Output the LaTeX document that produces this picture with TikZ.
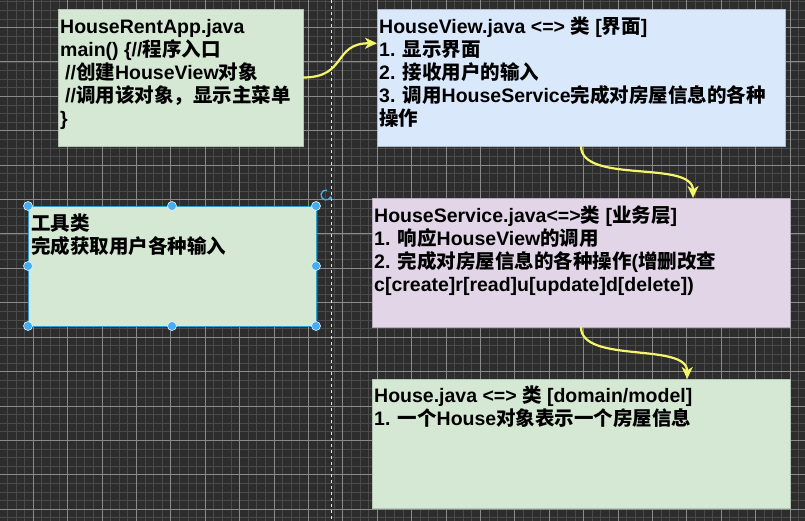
\documentclass[tikz,border=0pt]{standalone}
\usepackage{fontspec}
\setmainfont{Liberation Sans}
\newfontfamily\cjk{Noto Sans CJK SC}
\newcommand{\zh}[1]{{\cjk #1}}
\usetikzlibrary{arrows.meta,calc}
\definecolor{bgdark}{HTML}{2D2D2D}
\definecolor{gridminor}{HTML}{4A4A4A}
\definecolor{gridmajor}{HTML}{8A8A8A}
\definecolor{greenfill}{HTML}{D5E8D4}
\definecolor{bluefill}{HTML}{DAE8FC}
\definecolor{purplefill}{HTML}{E1D5E7}
\definecolor{flowyellow}{HTML}{F5F56A}
\definecolor{handleblue}{HTML}{45ADF0}
\begin{document}
\begin{tikzpicture}[x=1pt,y=1pt,>={Stealth[length=12pt,width=11pt,inset=3.5pt]},
  box/.style={rectangle, inner sep=0pt, outer sep=0pt, anchor=north west, line width=0.6pt},
  txt/.style={anchor=north west, inner sep=0pt, align=left, font=\fontsize{19.5}{23}\selectfont\bfseries},
  flow/.style={->, draw=flowyellow, line width=2.2pt},
  handle/.style={fill=handleblue, draw=white!85!handleblue, line width=0.6pt}]
\useasboundingbox (0,0) rectangle (805,-521);
\fill[bgdark] (0,0) rectangle (805,-521);
\foreach \i in {0,...,94} \draw[gridminor, line width=0.5pt] ({-1.4+8.6*\i},0) -- ({-1.4+8.6*\i},-521);
\foreach \j in {0,...,60} \draw[gridminor, line width=0.5pt] (0,{-1.6-8.6*\j}) -- (805,{-1.6-8.6*\j});
\foreach \i in {0,...,23} \draw[gridmajor, line width=0.6pt] ({-1.4+34.4*\i},0) -- ({-1.4+34.4*\i},-521);
\foreach \j in {0,...,14} \draw[gridmajor, line width=0.6pt] (0,{-27.4-34.4*\j}) -- (805,{-27.4-34.4*\j});
\draw[white!80!gray, line width=0.8pt, dash pattern=on 3pt off 3pt] (331.5,0) -- (331.5,-521);
\node[box, fill=greenfill, draw=greenfill!85!black, minimum width=245pt, minimum height=137pt] (app) at (58,-9) {};
\node[box, fill=bluefill, draw=bluefill!80!black, minimum width=408pt, minimum height=137pt] (view) at (377,-9) {};
\node[box, fill=greenfill, draw=handleblue!70!teal, minimum width=288pt, minimum height=120pt] (util) at (28,-206) {};
\node[box, fill=purplefill, draw=purplefill!80!black, minimum width=418pt, minimum height=129pt] (svc) at (372,-198) {};
\node[box, fill=greenfill, draw=greenfill!85!black, minimum width=418pt, minimum height=129pt] (house) at (372,-379) {};
\node[txt] (appT) at ($(app.north west)+(2,-6)$) {\rule{0pt}{18pt}HouseRentApp.java\\main() \{//\zh{程序入口}\\\hspace*{5pt}//\zh{创建}HouseView\zh{对象}\\\hspace*{5pt}//\zh{调用该对象，显示主菜单}\\\}};
\node[txt] (viewT) at ($(view.north west)+(2,-6)$) {\rule{0pt}{18pt}HouseView.java <=> \zh{类} [\zh{界面}]\\1. \zh{显示界面}\\2. \zh{接收用户的输入}\\3. \zh{调用}HouseService\zh{完成对房屋信息的各种}\\\zh{操作}};
\node[txt] (utilT) at ($(util.north west)+(3,-6)$) {\rule{0pt}{18pt}\zh{工具类}\\\zh{完成获取用户各种输入}};
\node[txt] (svcT) at ($(svc.north west)+(2,-6)$) {\rule{0pt}{18pt}HouseService.java<=>\zh{类} [\zh{业务层}]\\1. \zh{响应}HouseView\zh{的调用}\\2. \zh{完成对房屋信息的各种操作}(\zh{增删改查}\\c[create]r[read]u[update]d[delete])};
\node[txt] (houseT) at ($(house.north west)+(2,-5)$) {\rule{0pt}{18pt}House.java <=> \zh{类} [domain/model]\\1. \zh{一个}House\zh{对象表示一个房屋信息}};
\coordinate (viewIn) at ($(view.north west)!0.25!(view.south west)$);
\coordinate (svcIn) at ($(svc.north west)!0.768!(svc.north east)$);
\coordinate (houseIn) at ($(house.north west)!0.754!(house.north east)$);
\draw[flow] (app.east) to[out=0, in=180, looseness=1.4] (viewIn);
\draw[flow] (view.south) to[out=-90, in=90, looseness=0.8] (svcIn);
\draw[flow] (svc.south) to[out=-90, in=90, looseness=0.8] (houseIn);
\foreach \p in {north west,north,north east,west,east,south west,south,south east}
  \filldraw[handle] (util.\p) circle (4.5);
\draw[handleblue, line width=1.3pt, -{Stealth[length=3.5pt,width=4.5pt]}] ($(util.north east)+(10,11)+(80:5)$) arc (80:350:5);
\end{tikzpicture}
\end{document}
